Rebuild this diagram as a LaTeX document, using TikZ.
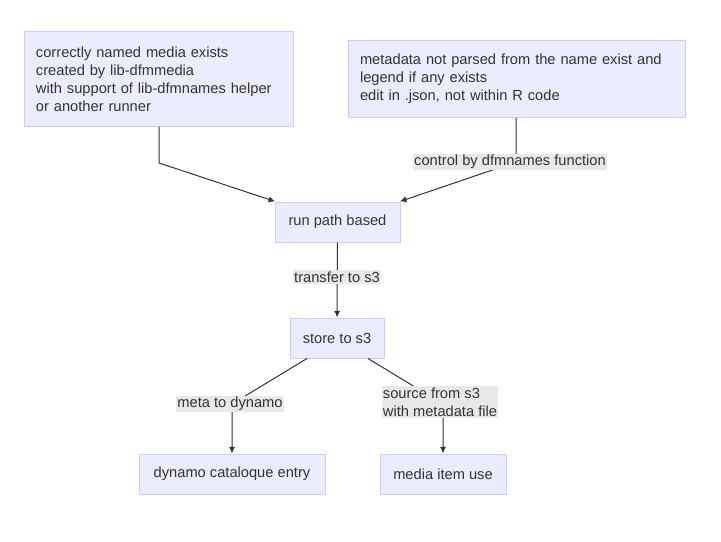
\documentclass[tikz,border=0pt]{standalone}
\usepackage{fontspec}
\setmainfont{Liberation Sans}
\usetikzlibrary{arrows.meta, positioning}
\definecolor{boxfill}{HTML}{ECECFF}
\definecolor{boxline}{HTML}{CCCCFF}
\definecolor{lblfill}{HTML}{E8E8E8}
\definecolor{ink}{HTML}{333333}
\tikzset{%
  box/.style={draw=boxline, fill=boxfill, line width=0.75pt, align=left,
    text=ink, inner sep=0pt, font=\fontsize{11pt}{13.5pt}\selectfont},
  wide box/.style={box, inner xsep=9pt},
  edge/.style={draw=ink, line width=0.75pt},
  move/.style={-{Latex[length=5pt,width=4.5pt]}},
  lbl/.style={fill=lblfill, text=ink, align=left, inner xsep=1pt, inner ysep=1pt,
    font=\fontsize{11pt}{13.5pt}\selectfont}
}
\begin{document}
\begin{tikzpicture}[x=0.75pt, y=-0.75pt]
  \useasboundingbox (0,0) rectangle (721,542);

  \node[wide box, text width=183.75pt, minimum height=70.5pt] (named) at (158.5,79)
    {correctly named media exists\\created by lib-dfmmedia\\with support of lib-dfmnames helper\\or another runner};
  \node[wide box, text width=234.75pt, minimum height=57pt] (meta) at (516.5,79)
    {metadata not parsed from the name exist and\\legend if any exists\\edit in .json, not within R code};
  \node[box, minimum width=93.75pt, minimum height=30pt] (run) at (337.5,222) {run path based};
  \node[box, minimum width=70.5pt, minimum height=30pt] (store) at (337,338) {store to s3};
  \node[box, minimum width=139.5pt, minimum height=30pt] (dynamo) at (232,474) {dynamo cataloque entry};
  \node[box, minimum width=94.5pt, minimum height=30pt] (use) at (443,474) {media item use};

  \coordinate (k1) at (159,163);
  \coordinate (k2) at (516,162);
  \coordinate (k3) at (232,404);
  \coordinate (k4) at (443,404);

  \draw[edge, move] (named.south -| k1) -- (k1) -- ([xshift=0.5pt]run.north west);
  \draw[edge, move] (meta.south -| k2) -- (k2) -- ([xshift=-0.5pt]run.north east);
  \draw[edge, move] (run) -- (store);
  \draw[edge, move] ([xshift=-22.5pt]store.south) -- (k3) -- (dynamo.north);
  \draw[edge, move] ([xshift=23.25pt]store.south) -- (k4) -- (use.north);

  \node[lbl] (ctl) at (510,162) {control by dfmnames function};
  \node[lbl] (xfer) at (337,277) {transfer to s3};
  \node[lbl] (todyn) at (230,404) {meta to dynamo};
  \node[lbl] (src) at (440,402) {source from s3\\with metadata file};
\end{tikzpicture}
\end{document}
